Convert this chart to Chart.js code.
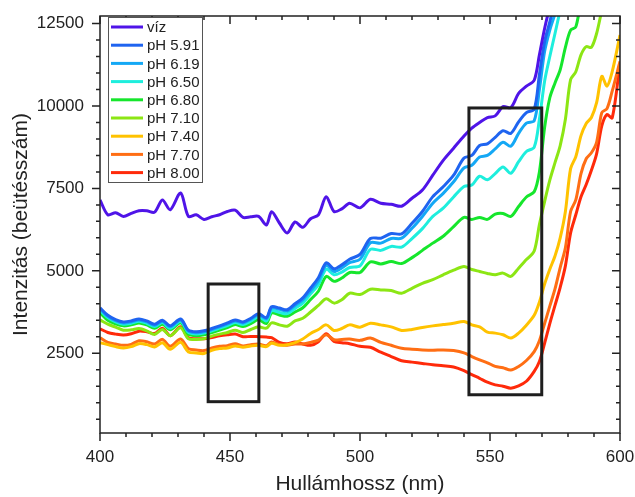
<!DOCTYPE html>
<html>
<head>
<meta charset="utf-8">
<script src="https://cdn.jsdelivr.net/npm/chart.js@4.4.1/dist/chart.umd.min.js"></script>
<style>
  html, body { margin: 0; padding: 0; background: #fff; }
</style>
</head>
<body>
<canvas id="chart" width="635" height="497"></canvas>
<script>
// wavelength grid (nm), shared by every spectrum
const wavelengths = [400,403,406,409,412,415,418,421,424,427,431,434,437,440,443,446,449,452,455,458,
  461,464,466,469,472,475,478,481,484,487,490,493,496,500,504,508,512,516,520,524,
  528,532,536,540,543,546,549,552,555,558,561,564,567,569,571,573,575,577,579,581,
  583,585,587,589,591,593,595,597,600];

// intensities (counts)
const viz = [7150,6700,6760,6650,6740,6820,6820,6780,7150,6850,7360,6650,6700,6560,6640,6700,6800,6840,6620,6640,
  6650,6390,6790,6450,6150,6480,6320,6580,6700,7250,6800,6880,7050,6910,7170,7050,7020,6960,7200,7450,
  7900,8350,8720,9090,9330,9500,9650,9700,9980,9950,10380,10600,10780,11550,12350,13000,13500,14000,14500,15000,
  15000,15000,15000,15000,15000,15000,15000,15000,15000];
const ph591 = [3880,3650,3520,3450,3480,3540,3480,3380,3500,3330,3540,3200,3150,3180,3250,3330,3420,3510,3450,3560,
  3700,3580,3910,3870,3820,4000,4180,4480,4790,5240,5060,5180,5350,5500,5980,5990,6130,6120,6440,6800,
  7250,7550,7900,8420,8500,8800,8850,9050,9250,9170,9520,9800,9900,10950,11950,12550,13200,13800,14500,15000,
  15000,15000,15000,15000,15000,15000,15000,15000,15000];
const ph619 = [3850,3620,3490,3420,3450,3510,3450,3350,3470,3300,3510,3170,3120,3150,3220,3300,3390,3480,3420,3530,
  3670,3550,3870,3830,3780,3950,4120,4400,4700,5170,4980,5090,5250,5350,5850,5840,5980,5990,6290,6650,
  7050,7350,7700,8120,8200,8450,8500,8700,8900,8780,9170,9480,9550,10500,11650,12300,12800,13400,14000,15000,
  15000,15000,15000,15000,15000,15000,15000,15000,15000];
const ph650 = [3800,3580,3450,3380,3410,3470,3410,3310,3430,3260,3470,3130,3080,3110,3180,3260,3340,3430,3370,3470,
  3610,3480,3790,3740,3700,3860,4020,4300,4580,5050,4880,4960,5100,5150,5650,5620,5740,5720,5980,6280,
  6650,6900,7240,7560,7600,7870,7760,7950,8150,7960,8310,8620,8750,9600,10750,11500,12200,12900,13500,14200,
  15000,15000,15000,15000,15000,15000,15000,15000,15000];
const ph680 = [3730,3500,3390,3330,3360,3420,3360,3260,3380,3210,3420,3080,3030,3060,3130,3200,3280,3370,3310,3400,
  3520,3400,3720,3660,3620,3750,3880,4130,4380,4830,4680,4780,4950,4950,5270,5210,5280,5220,5400,5620,
  5840,6050,6340,6620,6560,6620,6560,6720,6740,6650,6950,7240,7400,8000,9350,10250,10700,11100,11780,12300,
  12400,13200,13800,14500,15000,15000,15000,15000,15000];
const ph710 = [3510,3380,3290,3200,3210,3250,3180,3070,3220,3030,3270,2940,2920,2940,3020,3080,3130,3200,3130,3220,
  3300,3260,3420,3360,3320,3480,3560,3750,3950,4150,4020,4120,4320,4280,4440,4420,4400,4320,4470,4620,
  4730,4880,5020,5130,5040,4980,4920,4880,4930,4830,5080,5340,5600,6400,7100,7750,8280,8800,9600,10800,
  11040,11550,11800,11780,12200,12900,13500,14200,15000];
const ph740 = [2820,2760,2700,2660,2700,2790,2760,2690,2820,2620,2830,2540,2510,2490,2590,2640,2660,2720,2680,2720,
  2740,2700,2800,2740,2760,2820,2930,3100,3220,3360,3190,3250,3360,3290,3410,3360,3300,3190,3220,3280,
  3330,3370,3410,3460,3360,3300,3140,3110,3060,2960,3110,3350,3650,4050,4600,5050,5450,6000,6800,8100,
  8460,9100,9470,9650,10100,10900,10600,11040,12150];
const ph770 = [2970,2830,2780,2740,2770,2880,2850,2780,2920,2710,2930,2640,2600,2580,2660,2710,2730,2790,2720,2760,
  2780,2730,2840,2760,2740,2780,2780,2830,2900,3060,2910,2920,2930,2890,2960,2830,2740,2650,2620,2600,
  2590,2600,2580,2510,2400,2300,2210,2100,2060,1990,2100,2280,2550,2880,3400,3930,4450,5100,5700,6800,
  7150,7950,8400,8580,8900,9800,9920,10450,11350];
const ph800 = [3240,3130,3080,3050,3090,3170,3150,3100,3260,3030,3300,2970,2940,2940,2980,3030,3060,3080,3000,3010,
  3000,2990,2970,2830,2790,2840,2780,2740,2850,3090,2860,2820,2790,2710,2680,2530,2400,2270,2230,2190,
  2150,2120,2080,1970,1850,1740,1620,1540,1500,1440,1510,1650,1950,2250,2800,3400,3950,4500,5150,6150,
  6700,7250,7620,8050,8550,9400,9740,9640,11300];

const seriesLabels = ['víz', 'pH 5.91', 'pH 6.19', 'pH 6.50', 'pH 6.80', 'pH 7.10', 'pH 7.40', 'pH 7.70', 'pH 8.00'];
const seriesValues = [viz, ph591, ph619, ph650, ph680, ph710, ph740, ph770, ph800];
const seriesColors = ['#4f14e8', '#1f64f0', '#14a8f5', '#1eeedd', '#16e62c', '#8ce614', '#ffc200', '#ff6e14', '#ff2a0a'];

const xTicks = [400, 450, 500, 550, 600];
const yTicks = [2500, 5000, 7500, 10000, 12500];

// highlighted regions (nm, counts)
const boxes = [
  { x0: 441.6, x1: 461.1, y0: 1030, y1: 4600 },
  { x0: 541.9, x1: 569.9, y0: 1240, y1: 9940 }
];

const FONT = "'Liberation Sans', Arial, sans-serif";

// frame, tick marks and the two boxes
const framePlugin = {
  id: 'frame',
  afterDatasetsDraw(chart) {
    const { ctx, chartArea: a, scales: { x, y } } = chart;
    ctx.save();

    ctx.strokeStyle = '#1e1e1e';
    ctx.lineWidth = 3;
    boxes.forEach(b => {
      const l = x.getPixelForValue(b.x0), r = x.getPixelForValue(b.x1);
      const t = y.getPixelForValue(b.y1), bt = y.getPixelForValue(b.y0);
      ctx.strokeRect(l, t, r - l, bt - t);
    });

    ctx.strokeStyle = '#222';
    ctx.lineWidth = 1.5;
    ctx.strokeRect(a.left, a.top, a.right - a.left, a.bottom - a.top);

    ctx.beginPath();
    for (let v = 400; v <= 600; v += 10) {
      const px = x.getPixelForValue(v);
      const len = xTicks.includes(v) ? 8 : 4;
      ctx.moveTo(px, a.bottom); ctx.lineTo(px, a.bottom + len);
      ctx.moveTo(px, a.top); ctx.lineTo(px, a.top + len);
    }
    for (let v = 500; v <= 12500; v += 500) {
      const py = y.getPixelForValue(v);
      const len = yTicks.includes(v) ? 8 : 4;
      ctx.moveTo(a.left, py); ctx.lineTo(a.left - len, py);
      ctx.moveTo(a.right, py); ctx.lineTo(a.right - len, py);
    }
    ctx.stroke();
    ctx.restore();
  }
};

// boxed legend in the upper left corner
const legendPlugin = {
  id: 'boxLegend',
  afterDraw(chart) {
    const ctx = chart.ctx;
    const left = 108, top = 17, width = 94, height = 165;
    const rowStart = 27, rowStep = 18.2;
    ctx.save();
    ctx.fillStyle = '#fff';
    ctx.fillRect(left, top, width, height);
    ctx.strokeStyle = '#555';
    ctx.lineWidth = 1;
    ctx.strokeRect(left + 0.5, top + 0.5, width, height);
    ctx.font = '15px ' + FONT;
    ctx.textBaseline = 'middle';
    chart.data.datasets.forEach((ds, i) => {
      const yy = rowStart + i * rowStep;
      ctx.strokeStyle = ds.borderColor;
      ctx.lineWidth = 3;
      ctx.beginPath();
      ctx.moveTo(111, yy);
      ctx.lineTo(143, yy);
      ctx.stroke();
      ctx.fillStyle = '#222';
      ctx.fillText(ds.label, 147, yy + 1);
    });
    ctx.restore();
  }
};

const datasets = seriesValues.map((vals, i) => ({
  label: seriesLabels[i],
  data: wavelengths.map((w, j) => ({ x: w, y: vals[j] })),
  borderColor: seriesColors[i],
  borderWidth: 3,
  pointRadius: 0,
  tension: 0.3,
  borderJoinStyle: 'round',
  fill: false
}));

new Chart(document.getElementById('chart'), {
  type: 'line',
  data: { datasets: datasets },
  plugins: [framePlugin, legendPlugin],
  options: {
    responsive: false,
    animation: false,
    devicePixelRatio: 1,
    layout: { padding: { top: 16, right: 15, left: 0, bottom: 0 } },
    plugins: { legend: { display: false }, tooltip: { enabled: false } },
    scales: {
      x: {
        type: 'linear',
        min: 400,
        max: 600,
        afterBuildTicks: s => { s.ticks = xTicks.map(v => ({ value: v })); },
        afterFit: s => { s.height = 64; s.paddingLeft = 0; s.paddingRight = 0; },
        grid: { display: false, drawTicks: false },
        border: { display: false },
        ticks: { padding: 14, color: '#222', font: { family: FONT, size: 17 }, callback: v => String(v) },
        title: {
          display: true,
          text: 'Hullámhossz (nm)',
          color: '#222',
          font: { family: FONT, size: 21 },
          padding: { top: 0, bottom: 0 }
        }
      },
      y: {
        type: 'linear',
        min: 80,
        max: 12730,
        afterBuildTicks: s => { s.ticks = yTicks.map(v => ({ value: v })); },
        afterFit: s => { s.width = 100; s.paddingTop = 0; s.paddingBottom = 0; },
        grid: { display: false, drawTicks: false },
        border: { display: false },
        ticks: { padding: 16, color: '#222', font: { family: FONT, size: 17 }, callback: v => String(v) },
        title: {
          display: true,
          text: 'Intenzitás (beütésszám)',
          color: '#222',
          font: { family: FONT, size: 21 },
          padding: { top: 9, bottom: 0 }
        }
      }
    }
  }
});
</script>
</body>
</html>
